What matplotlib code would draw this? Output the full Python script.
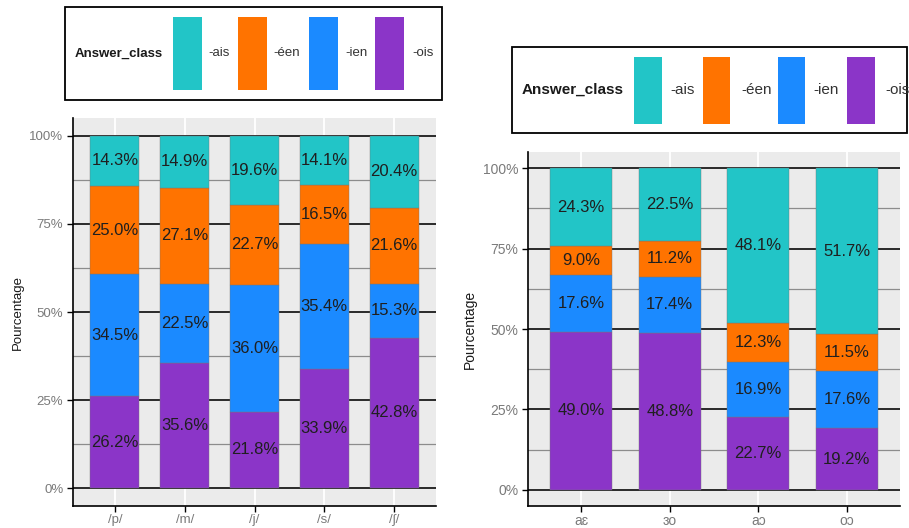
import matplotlib
matplotlib.use("Agg")
import matplotlib.pyplot as plt
from matplotlib.patches import Rectangle
import numpy as np

plt.rcParams['font.family'] = ['Liberation Sans', 'DejaVu Sans']

classes = ['-ais', '-éen', '-ien', '-ois']
class_colors = ['#22C5C7', '#FF7300', '#1B8AFF', '#8B35C8']

# left panel (consonants)
left_cats = ['/p/', '/m/', '/j/', '/s/', '/ʃ/']
left_ais = [14.3, 14.9, 19.6, 14.1, 20.4]
left_een = [25.0, 27.1, 22.7, 16.5, 21.6]
left_ien = [34.5, 22.5, 36.0, 35.4, 15.3]
left_ois = [26.2, 35.6, 21.8, 33.9, 42.8]

# right panel (vowels)
right_cats = ['aɛ', 'ɜo', 'aɔ', 'oɔ']
right_ais = [24.3, 22.5, 48.1, 51.7]
right_een = [9.0, 11.2, 12.3, 11.5]
right_ien = [17.6, 17.4, 16.9, 17.6]
right_ois = [49.0, 48.8, 22.7, 19.2]

W, H = 909, 528


def px_box(x0, y0, x1, y1):
    return [x0 / W, 1 - y1 / H, (x1 - x0) / W, (y1 - y0) / H]


def draw_panel(ax, cats, series, label_size, tick_size):
    x = np.arange(1, len(cats) + 1)
    data = np.array(series, dtype=float)
    pct = data / data.sum(axis=0) * 100
    bottom = np.zeros(len(cats))
    # stack from bottom: -ois, -ien, -éen, -ais
    for idx in [3, 2, 1, 0]:
        ax.bar(x, pct[idx], 0.7, bottom=bottom, color=class_colors[idx],
               edgecolor='#777777', linewidth=0.3, zorder=3)
        for xi, b, h, v in zip(x, bottom, pct[idx], data[idx]):
            ax.text(xi, b + h / 2, f"{v:.1f}%", ha='center', va='center',
                    fontsize=label_size, color='#1f1f1f', zorder=4)
        bottom += pct[idx]

    ax.set_xlim(0.4, len(cats) + 0.6)
    ax.set_ylim(-5, 105)
    ax.set_facecolor('#EBEBEB')
    ax.set_xticks(x)
    ax.set_xticklabels(cats)
    ax.set_yticks([0, 25, 50, 75, 100])
    ax.set_yticklabels(['0%', '25%', '50%', '75%', '100%'])
    ax.set_yticks([12.5, 37.5, 62.5, 87.5], minor=True)
    ax.yaxis.grid(True, which='major', color='#1a1a1a', linewidth=1.3)
    ax.yaxis.grid(True, which='minor', color='#8c8c8c', linewidth=0.9)
    ax.xaxis.grid(True, which='major', color='white', linewidth=1.3)
    ax.set_axisbelow(True)
    for s in ['top', 'right']:
        ax.spines[s].set_visible(False)
    for s in ['left', 'bottom']:
        ax.spines[s].set_color('black')
        ax.spines[s].set_linewidth(1.2)
    ax.tick_params(which='major', length=4, width=1, color='black',
                   labelcolor='#7a7a7a', labelsize=tick_size, pad=3)
    ax.tick_params(axis='x', which='major', pad=1.5)
    ax.tick_params(which='minor', length=0)
    ax.set_ylabel('Pourcentage', fontsize=tick_size, color='#1a1a1a')


def draw_legend(fig, box, title_x, keys, key_y, label_xs, title_size, label_size):
    x0, y0, x1, y1 = box
    fig.patches.append(Rectangle((x0 / W, 1 - y1 / H), (x1 - x0) / W, (y1 - y0) / H,
                                 transform=fig.transFigure, facecolor='white',
                                 edgecolor='black', linewidth=1.3))
    yc = 1 - (y0 + y1) / 2 / H
    fig.text(title_x / W, yc, 'Answer_class', fontsize=title_size,
             fontweight='bold', color='#1a1a1a', ha='left', va='center')
    for (kx0, kx1), lx, col, name in zip(keys, label_xs, class_colors, classes):
        fig.patches.append(Rectangle((kx0 / W, 1 - key_y[1] / H), (kx1 - kx0) / W,
                                     (key_y[1] - key_y[0]) / H,
                                     transform=fig.transFigure, facecolor=col,
                                     edgecolor='none'))
        fig.text(lx / W, yc, name, fontsize=label_size, color='#333333',
                 ha='left', va='center')


fig = plt.figure(figsize=(W / 100, H / 100), dpi=100)

ax_left = fig.add_axes(px_box(73, 118, 436, 506))
draw_panel(ax_left, left_cats, [left_ais, left_een, left_ien, left_ois], 12, 9.5)

ax_right = fig.add_axes(px_box(528, 152, 900, 506))
draw_panel(ax_right, right_cats, [right_ais, right_een, right_ien, right_ois], 12, 10)

draw_legend(fig, (65, 7, 442, 100), 75,
            [(173, 202), (238, 267), (309, 338), (375, 404)], (17, 90),
            [208, 273, 345, 412], 9.5, 9.5)
draw_legend(fig, (512, 47, 907, 133), 522,
            [(634, 662), (703, 730), (778, 805), (847, 875)], (57, 124),
            [670, 741, 813, 885], 11, 11)

fig.savefig('out.png', dpi=100)
